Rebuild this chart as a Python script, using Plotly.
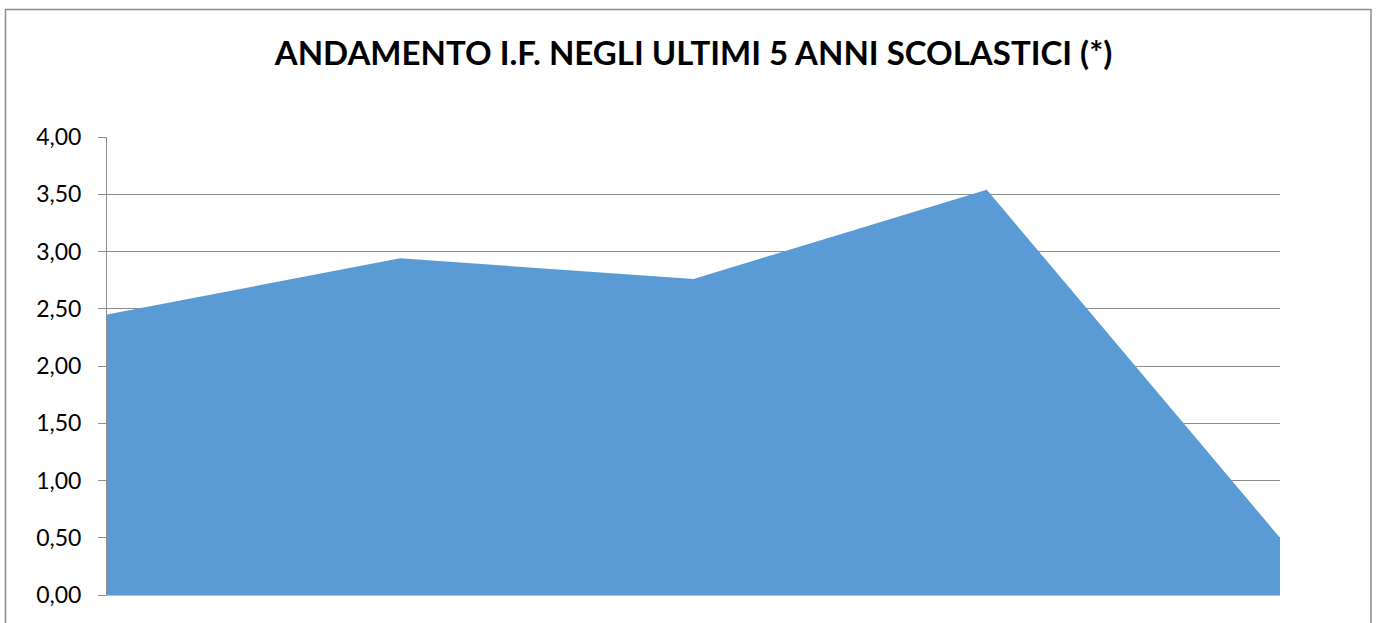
import plotly.graph_objects as go

anni = ["2011/12", "2012/13", "2013/14", "2014/15", "2015/16"]
indice_frequenza = [2.45, 2.94, 2.76, 3.54, 0.50]
y_ticks = [0, 0.5, 1, 1.5, 2, 2.5, 3, 3.5, 4]

fig = go.Figure()
fig.add_trace(go.Scatter(
    x=anni, y=indice_frequenza, mode="lines", fill="tozeroy",
    fillcolor="#5B9BD5", line=dict(color="#5B9BD5", width=0),
    showlegend=False, hoverinfo="x+y"))

W, H = 1376, 623
L, R, T, B = 107, 96, 137, 28
pw, ph = W - L - R, H - T - B

def px2paper_x(px):
    return (px - L) / pw

def px2paper_y(py):
    return (H - B - py) / ph

fig.update_layout(
    width=W, height=H,
    margin=dict(l=L, r=R, t=T, b=B),
    paper_bgcolor="white", plot_bgcolor="white",
    separators=",.",
    font=dict(family="Lato, Carlito, Liberation Sans, sans-serif", color="#000000"),
    title=dict(text="<b>ANDAMENTO I.F. NEGLI ULTIMI 5 ANNI SCOLASTICI (*)</b>",
               x=0.5, xref="paper", xanchor="center",
               y=1 - 53 / H, yref="container", yanchor="middle",
               font=dict(size=33, color="#000000")),
    xaxis=dict(type="category", range=[0, len(anni) - 1], showticklabels=False,
               showgrid=False, zeroline=False, showline=True,
               linecolor="#BFBFBF", linewidth=1, ticks=""),
    yaxis=dict(range=[0, 4], tickvals=y_ticks, tickformat=".2f",
               showgrid=True, gridcolor="#8C8C8C", gridwidth=1,
               zeroline=False, showline=True, linecolor="#8C8C8C", linewidth=1,
               ticks="outside", ticklen=8, tickcolor="#8C8C8C",
               ticklabelstandoff=12,
               tickfont=dict(size=23, color="#000000")),
    shapes=[dict(type="rect", xref="paper", yref="paper",
                 x0=px2paper_x(5.5), x1=px2paper_x(1371),
                 y0=px2paper_y(700), y1=px2paper_y(9.5),
                 line=dict(color="#8C8C8C", width=1.5),
                 fillcolor="rgba(0,0,0,0)", layer="below")],
)

fig.write_html("out.html",
               config={"displayModeBar": False},
               post_script="document.body.style.margin='0';document.body.style.overflow='hidden';")
